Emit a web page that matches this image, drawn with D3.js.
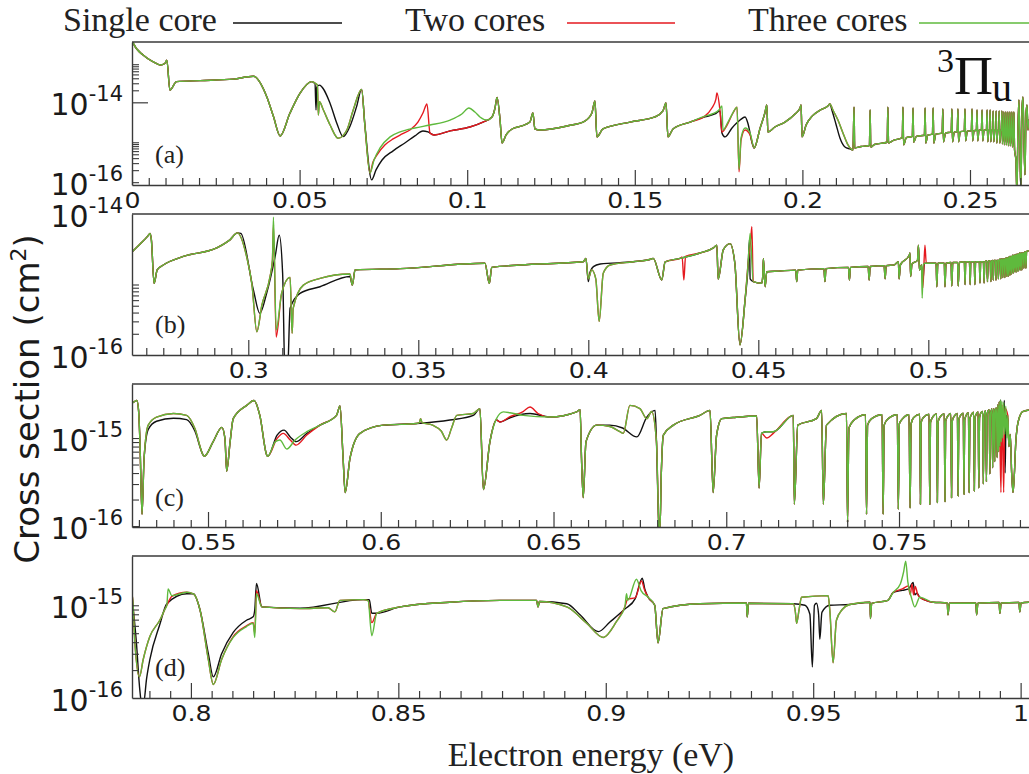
<!DOCTYPE html>
<html>
<head>
<meta charset="utf-8">
<script src="https://cdn.jsdelivr.net/npm/d3@7"></script>
<style>
  body { margin: 0; background: #fff; }
  svg { display: block; }
</style>
</head>
<body>
<svg id="chart" width="1029" height="774"></svg>
<script>
// ---------------- data ----------------
const seriesNames = ["Single core", "Two cores", "Three cores"];

// Energy tick labels of the four panels
const ticksA = [0, 0.05, 0.1, 0.15, 0.2, 0.25];
const labelsA = ["0", "0.05", "0.1", "0.15", "0.2", "0.25"];
const ticksB = [0.3, 0.35, 0.4, 0.45, 0.5];
const labelsB = ["0.3", "0.35", "0.4", "0.45", "0.5"];
const ticksC = [0.55, 0.6, 0.65, 0.7, 0.75];
const labelsC = ["0.55", "0.6", "0.65", "0.7", "0.75"];
const ticksD = [0.8, 0.85, 0.9, 0.95, 1];
const labelsD = ["0.8", "0.85", "0.9", "0.95", "1"];

// Panel (a): curve followed by the three-core result; the other runs list only where they part from it
const aShared = [
 [0.0000,4.0e-13],[0.0004,3.0e-13],[0.0034,1.5e-13],[0.0064,1.03e-13],[0.0084,8.6e-14],[0.0098,9.4e-14],[0.0104,1.14e-13],[0.0113,2.03e-14],[0.0133,3.3e-14],[0.0203,3.5e-14],[0.0302,3.8e-14],[0.0362,4.5e-14],[0.0402,1.38e-14],[0.0422,4.4e-15],[0.0442,1.44e-15],[0.0471,5.3e-15],[0.0501,1.68e-14],[0.0536,3.3e-14],
 [0.0549,2.9e-14],[0.0553,2.7e-14],[0.0556,4.8e-15],[0.0559,1.03e-14],[0.0571,6.4e-15],[0.0591,2.7e-15],[0.0615,1.26e-15],[0.0641,2.03e-15],[0.0660,6.4e-15],[0.0685,2.11e-14],[0.0695,2.47e-15],[0.0710,1.7e-16],[0.0722,3.6e-16],[0.0740,7.2e-16],[0.0770,1.36e-15],[0.0800,1.81e-15],[0.0844,2.28e-15],[0.0889,2.7e-15],[0.0949,3.6e-15],[0.0984,5.1e-15],[0.1005,7.2e-15],[0.1023,5.7e-15],[0.1038,4.3e-15],[0.1059,3.6e-15],[0.1074,4.3e-15],
 [0.1083,7.2e-15],[0.1089,1.33e-14],[0.1098,3.6e-15],[0.1104,9.6e-16],[0.1116,1.52e-15],[0.1134,2.15e-15],[0.1163,2.56e-15],[0.1187,3.2e-15],[0.1196,5.4e-15],[0.1202,2.15e-15],[0.1217,2.03e-15],[0.1298,2.56e-15],[0.1351,3.4e-15],[0.1372,5.4e-15],[0.1381,1.08e-14],[0.1387,1.36e-15],[0.1405,2.15e-15],[0.1486,3.2e-15],[0.1560,4.3e-15],[0.1584,6.1e-15],[0.1593,9.6e-15],[0.1599,1.36e-15],[0.1614,2.15e-15],[0.1665,3.2e-15],[0.1709,4.5e-15],
 [0.1730,5.1e-15],[0.1751,6.4e-15],[0.1760,8.1e-15],[0.1763,2.03e-15],[0.1778,3.2e-15],[0.1802,7.2e-15],[0.1805,7.6e-15],[0.1811,2.1e-16],[0.1817,1.28e-15],[0.1829,2.28e-15],[0.1844,1.71e-15],[0.1856,7.2e-16],
 [0.1874,2.28e-15],[0.1888,5.4e-15],[0.1894,8.6e-15],[0.1897,1.81e-15],[0.1918,2.41e-15],[0.1948,3.2e-15],[0.1978,5.1e-15],[0.1993,7.2e-15],[0.1996,8.6e-15],[0.1999,1.36e-15],[0.2011,2.7e-15],[0.2029,4.5e-15],[0.2053,6.4e-15],[0.2076,8.1e-15],[0.2082,9.1e-15],
 [0.2091,6.4e-15],[0.2106,3.6e-15],[0.2121,1.71e-15],[0.2136,8.6e-16],[0.2151,6.4e-16],
 [0.2154,7.6e-15],[0.2156,7.2e-16],[0.2175,7.8e-16],[0.2200,8.3e-16],[0.2202,6.4e-15],[0.2204,7.6e-16],[0.2215,8.8e-16],[0.2253,1.0e-15],[0.2255,7.6e-15],[0.2257,9.6e-16],[0.2270,1.1e-15],[0.2298,1.3e-15],[0.2300,7.6e-15],[0.2302,8.6e-16],[0.2310,1.3e-15],[0.2328,1.4e-15],[0.2330,7.2e-15],[0.2332,1.0e-15],[0.2340,1.4e-15],[0.2364,1.5e-15],[0.2366,7.2e-15],[0.2368,9.6e-16],[0.2374,1.5e-15],[0.2388,1.6e-15],[0.2390,7.2e-15],[0.2392,9.6e-16],[0.2398,1.6e-15],[0.2417,1.7e-15],[0.2419,6.8e-15],[0.2421,1.02e-15],[0.2427,1.7e-15],[0.2444,1.8e-15],[0.2446,6.8e-15],[0.2448,1.02e-15],[0.2453,1.8e-15],[0.2462,1.85e-15],[0.2464,6.8e-15],[0.2466,1.02e-15],[0.2471,1.85e-15],[0.2483,1.9e-15],[0.2485,6.8e-15],[0.2487,1.08e-15],[0.2492,1.9e-15],[0.2504,1.95e-15],[0.2506,6.8e-15],[0.2508,1.08e-15],[0.2512,1.95e-15],[0.2519,2.0e-15],[0.2521,6.4e-15],[0.2523,1.08e-15],[0.2527,2.0e-15],[0.2534,2.0e-15],[0.2536,6.4e-15],[0.2538,1.08e-15],[0.2542,2.0e-15],[0.2549,2.0e-15],[0.2551,6.4e-15],[0.2553,1.02e-15],[0.2556,2.0e-15],[0.2559,2.0e-15],[0.2560,6.4e-15],[0.2562,1.02e-15],[0.2565,2.0e-15],[0.2568,2.0e-15],[0.2569,6.1e-15],[0.2571,1.02e-15],[0.2574,2.0e-15],[0.2577,2.0e-15],[0.2578,6.1e-15],[0.2580,9.6e-16],[0.2583,2.0e-15],[0.2586,2.0e-15],[0.2587,6.1e-15],[0.2589,9.6e-16],[0.2592,2.0e-15],[0.2594,2.0e-15],[0.2595,6.1e-15],[0.2597,9.1e-16],[0.2599,2.0e-15],[0.2600,2.0e-15],[0.2601,5.7e-15],[0.2603,8.6e-16],[0.2605,2.0e-15],[0.2606,2.0e-15],[0.2607,5.7e-15],[0.2609,8.6e-16],[0.2611,2.0e-15],[0.2612,2.0e-15],[0.2613,5.7e-15],[0.2615,8.1e-16],[0.2617,2.0e-15],[0.2618,2.0e-15],[0.2619,5.7e-15],[0.2621,8.1e-16],[0.2623,2.0e-15],[0.2624,2.0e-15],[0.2625,5.7e-15],[0.2627,7.6e-16],[0.2629,2.0e-15],[0.2630,2.0e-15],[0.2631,5.7e-15],[0.2633,6.4e-16],
 [0.2637,3.6e-16],[0.2640,5e-17],[0.2643,2.03e-15],[0.2646,1.14e-14],[0.2649,6.4e-16],[0.2652,6e-17],[0.2655,6.4e-15],[0.2658,1.36e-14],[0.2661,1.14e-15],[0.2664,1.52e-16],[0.2667,4.8e-15],[0.2670,8.6e-15],[0.2673,2.03e-15],[0.2676,3.6e-15],[0.2682,3.0e-15]
];
const aSingle = [
 [[0.0536,3.3e-14],[0.0546,2.9e-14],[0.0549,6.4e-15],[0.0551,2.37e-14],[0.0558,2.7e-14],[0.0591,9.4e-15],[0.0611,3.0e-15],[0.0630,1.38e-15],[0.0650,2.47e-15],[0.0670,7.8e-15],[0.0685,2.11e-14],[0.0695,2.6e-15],[0.0715,1.14e-16],[0.0728,2.03e-16],[0.0746,3.6e-16],[0.0779,6.1e-16],[0.0814,9.6e-16],[0.0844,1.44e-15],[0.0868,1.92e-15],[0.0883,1.81e-15],[0.0901,1.52e-15],[0.0949,1.92e-15],[0.1008,2.41e-15],[0.1047,3.2e-15],[0.1074,4.3e-15]],
 [[0.1709,4.3e-15],[0.1739,5.1e-15],[0.1754,6.1e-15],[0.1760,1.71e-15],[0.1769,1.36e-15],[0.1790,2.28e-15],[0.1814,3.6e-15],[0.1829,4.3e-15],[0.1838,2.87e-15],[0.1850,9.6e-16],[0.1856,7.2e-16]],
 [[0.2082,9.1e-15],[0.2088,6.4e-15],[0.2100,2.87e-15],[0.2112,1.28e-15],[0.2127,7.6e-16],[0.2142,6.8e-16],[0.2151,6.4e-16]]
];
const aTwo = [
 [[0.0710,1.7e-16],[0.0719,3.2e-16],[0.0731,4.8e-16],[0.0755,8.6e-16],[0.0779,1.21e-15],[0.0806,1.61e-15],[0.0829,2.03e-15],[0.0853,3.2e-15],[0.0868,5.4e-15],[0.0880,9.1e-15],[0.0889,1.71e-15],[0.0901,1.52e-15],[0.0949,1.92e-15],[0.1008,2.41e-15],[0.1047,3.2e-15],[0.1074,4.3e-15]],
 [[0.1709,4.5e-15],[0.1730,7.2e-15],[0.1742,1.2e-14],[0.1745,1.71e-14],[0.1754,6.4e-15],[0.1760,1.81e-15],[0.1772,2.41e-15],[0.1793,5.4e-15],[0.1805,7.6e-15],[0.1811,1.81e-16],[0.1817,1.14e-15],[0.1829,2.03e-15],[0.1844,1.52e-15],[0.1856,7.2e-16]]
];
const aThree = [];

// Panel (b)
const bShared = [
 [0.2658,2.9e-15],[0.2682,3.75e-15],[0.2705,4.9e-15],[0.2711,5.3e-15],[0.2715,4.3e-15],[0.2723,1.04e-15],[0.2732,1.61e-15],[0.2750,1.89e-15],[0.2809,2.5e-15],[0.2907,3.3e-15],[0.2946,4.3e-15],[0.2968,5.4e-15],[0.2995,2.5e-15],[0.3011,9.8e-16],[0.3025,2.14e-16],[0.3040,5.1e-16],[0.3064,1.29e-15],[0.3071,2.2e-15],[0.3074,9.0e-15],[0.3082,2.26e-16],[0.3098,7.5e-16],[0.3123,1.26e-15],[0.3129,2.03e-16],[0.3132,4.6e-16],[0.3162,9.8e-16],[0.3211,1.22e-15],[0.3299,1.41e-15],[0.3306,9.8e-16],[0.3314,1.61e-15],[0.3446,1.68e-15],[0.3696,2.0e-15],[0.3709,1.04e-15],[0.3716,1.75e-15],[0.3799,1.89e-15],[0.3985,2.1e-15],[0.3993,2.35e-15],[0.4000,1.2e-15],[0.4010,1.61e-15],[0.4022,1.2e-15],[0.4032,3.0e-16],[0.4044,1.44e-15],[0.4064,1.89e-15],[0.4132,2.1e-15],[0.4186,2.3e-15],[0.4191,2.35e-15],[0.4216,1.16e-15],[0.4226,2.1e-15],[0.4270,2.35e-15],[0.4329,2.8e-15],[0.4368,3.3e-15],[0.4378,3.6e-15],[0.4382,1.19e-15],[0.4397,3.1e-15],[0.4417,3.8e-15],[0.4431,2.0e-15],[0.4446,1.39e-16],[0.4461,6.0e-16],[0.4470,2.0e-15],[0.4476,5.3e-15],[0.4485,1.10e-15],[0.4510,1.04e-15],[0.4513,1.3e-15],[0.4515,2.35e-15],[0.4520,9.3e-16],[0.4525,1.52e-15],[0.4560,1.55e-15],[0.4610,1.6e-15],[0.4613,1.1e-15],[0.4616,1.6e-15],[0.4693,1.68e-15],[0.4696,1.1e-15],[0.4699,1.68e-15],[0.4765,1.75e-15],[0.4768,1.16e-15],[0.4771,1.75e-15],[0.4823,1.8e-15],[0.4826,1.16e-15],[0.4829,1.8e-15],[0.4870,1.85e-15],[0.4873,1.2e-15],[0.4876,1.85e-15],[0.4900,1.9e-15],[0.4912,2.1e-15],[0.4914,1.2e-15],[0.4918,1.9e-15],[0.4944,2.6e-15],[0.4946,2.8e-15],[0.4948,1.3e-15],[0.4952,1.95e-15],[0.4968,2.2e-15],[0.4971,3.6e-15],[0.4974,1.6e-15],[0.4980,1.9e-15],[0.4982,6.4e-16],[0.4985,1.9e-15],[0.4990,2.0e-15],[0.4995,2.0e-15],
 [0.5023,2.0e-15],[0.5025,9.3e-16],[0.5028,2.0e-15],[0.5047,2.0e-15],[0.5049,9.3e-16],[0.5052,2.0e-15],[0.5067,2.05e-15],[0.5069,9.5e-16],[0.5072,2.05e-15],[0.5086,2.05e-15],[0.5088,9.5e-16],[0.5091,2.05e-15],[0.5106,2.1e-15],[0.5108,1.0e-15],[0.5110,2.1e-15],[0.5121,2.1e-15],[0.5123,1.0e-15],[0.5125,2.1e-15],[0.5135,2.1e-15],[0.5137,1.0e-15],[0.5139,2.1e-15],[0.5150,2.1e-15],[0.5152,1.05e-15],[0.5154,2.1e-15],[0.5162,2.1e-15],[0.5164,1.05e-15],[0.5166,2.1e-15],[0.5172,2.15e-15],[0.5174,1.1e-15],[0.5176,2.15e-15],[0.5182,2.15e-15],[0.5184,1.1e-15],[0.5186,2.15e-15],[0.5190,2.2e-15],[0.5191,1.15e-15],[0.5193,2.2e-15],[0.5198,2.2e-15],[0.5199,1.15e-15],[0.5201,2.2e-15],[0.5205,2.2e-15],[0.5206,1.2e-15],[0.5208,2.2e-15],[0.5212,2.3e-15],[0.5213,1.2e-15],[0.5215,2.3e-15],[0.5218,2.3e-15],[0.5219,1.25e-15],[0.5221,2.3e-15],[0.5224,2.3e-15],[0.5225,1.25e-15],[0.5227,2.3e-15],[0.5230,2.4e-15],[0.5231,1.3e-15],[0.5233,2.4e-15],[0.5234,2.4e-15],[0.5235,1.3e-15],[0.5237,2.4e-15],[0.5239,2.5e-15],[0.5240,1.35e-15],[0.5242,2.5e-15],[0.5244,2.5e-15],[0.5245,1.4e-15],[0.5247,2.5e-15],[0.5249,2.6e-15],[0.5250,1.45e-15],[0.5252,2.6e-15],[0.5254,2.6e-15],[0.5255,1.5e-15],[0.5257,2.6e-15],[0.5259,2.7e-15],[0.5260,1.5e-15],[0.5262,2.7e-15],[0.5264,2.7e-15],[0.5265,1.55e-15],[0.5267,2.7e-15],[0.5269,2.8e-15],[0.5270,1.6e-15],[0.5272,2.8e-15],[0.5274,2.8e-15],[0.5275,1.6e-15],[0.5277,2.8e-15],[0.5280,2.8e-15],[0.5281,1.7e-15],[0.5283,2.9e-15],[0.5286,2.9e-15],[0.5287,1.7e-15],[0.5289,2.9e-15],[0.5292,3.0e-15],[0.5302,3.0e-15]
];
const bSingle = [
 [[0.2968,5.4e-15],[0.2978,5.3e-15],[0.3015,8.4e-16],[0.3034,3.9e-16],[0.3054,7.5e-16],[0.3079,2.5e-15],[0.3091,5.0e-15],[0.3101,1.44e-15],[0.3108,5e-17],[0.3115,5e-17],[0.3123,4.6e-16],[0.3152,7.5e-16],[0.3211,9.3e-16],[0.3299,1.3e-15]],
 [[0.3993,2.35e-15],[0.4000,1.10e-15],[0.4005,1.5e-15],[0.4015,1.79e-15],[0.4035,1.95e-15],[0.4132,2.1e-15]],
 [[0.4461,6.0e-16],[0.4470,1.8e-15],[0.4474,4.3e-15],[0.4476,1.2e-15],[0.4485,1.10e-15]],
 [[0.4980,1.9e-15],[0.4984,1.1e-15],[0.4988,1.95e-15]]
];
const bTwo = [
 [[0.3074,7.0e-15],[0.3082,1.8e-16]],
 [[0.4270,2.35e-15],[0.4276,2.45e-15],[0.4281,1.16e-15],[0.4286,2.5e-15],[0.4329,2.8e-15]],
 [[0.4461,6.0e-16],[0.4470,2.0e-15],[0.4478,4.5e-15],[0.4481,6.6e-15],[0.4485,1.10e-15]],
 [[0.4980,1.9e-15],[0.4984,9e-16],[0.4990,3.6e-15],[0.4994,2.0e-15]]
];
const bThree = [];

// Panel (c)
const cShared = [
 [0.5280,2.5e-15],[0.5282,2.52e-15],[0.5294,2.67e-15],[0.5299,2.06e-15],[0.5303,9.1e-16],[0.5309,1.36e-16],[0.5315,5.9e-16],[0.5327,1.40e-15],[0.5351,1.73e-15],[0.5400,1.9e-15],[0.5438,1.81e-15],[0.5462,1.28e-15],[0.5486,6.4e-16],[0.5489,6.2e-16],[0.5515,9.1e-16],[0.5540,1.32e-15],[0.5549,9.9e-16],[0.5554,4.2e-16],[0.5564,9.1e-16],[0.5573,1.66e-15],[0.5612,2.35e-15],[0.5633,2.67e-15],[0.5650,1.81e-15],[0.5670,6.4e-16],[0.5673,6.2e-16],
 [0.5695,9.1e-16],[0.5708,9.5e-16],[0.5728,7.5e-16],[0.5752,9.5e-16],[0.5786,1.18e-15],
 [0.5824,1.40e-15],[0.5872,1.81e-15],[0.5882,2.31e-15],[0.5891,5.9e-16],[0.5897,2.4e-16],[0.5911,5.9e-16],[0.5940,1.13e-15],[0.6007,1.40e-15],[0.6104,1.46e-15],
 [0.6112,1.5e-15],[0.6115,1.66e-15],[0.6120,1.5e-15],[0.6150,1.4e-15],[0.6175,1.2e-15],[0.6191,9.5e-16],[0.6205,1.3e-15],[0.6220,1.81e-15],[0.6268,1.9e-15],
 [0.6287,2.16e-15],[0.6297,2.6e-16],[0.6316,9.1e-16],[0.6335,1.66e-15],
 [0.6355,1.98e-15],[0.6374,1.94e-15],[0.6412,1.81e-15],
 [0.6490,1.73e-15],[0.6567,1.98e-15],[0.6577,2.1e-15],[0.6581,5.9e-16],[0.6586,2.1e-16],[0.6594,9.1e-16],[0.6625,1.40e-15],
 [0.6663,1.35e-15],[0.6692,1.18e-15],[0.6702,1.13e-15],[0.6721,2.35e-15],[0.6750,2.16e-15],[0.6770,1.66e-15],[0.6784,2.0e-15],
 [0.6798,9.1e-16],[0.6805,1.0e-16],[0.6808,9e-17],[0.6812,4e-16],[0.6818,1.08e-15],[0.6847,1.40e-15],[0.6924,1.81e-15],[0.6953,2.06e-15],[0.6962,2.4e-16],[0.6972,1.08e-15],[0.6987,1.66e-15],[0.7020,1.71e-15],[0.7088,1.78e-15],[0.7095,2.7e-16],[0.7102,1.13e-15],[0.7117,1.18e-15],[0.7136,1.18e-15],[0.7194,1.81e-15],[0.7197,1.77e-16],[0.7207,1.40e-15],[0.7261,1.66e-15],[0.7276,2.06e-15],[0.7281,1.77e-16],[0.7290,1.40e-15],[0.7348,1.9e-15],[0.7351,1.1e-16],[0.7355,1.3e-15],
 [0.7370,1.6e-15],[0.7403,1.84e-15],[0.7406,1.36e-16],[0.7409,1.4e-15],[0.7420,1.65e-15],[0.7451,1.84e-15],[0.7454,1.36e-16],[0.7457,1.4e-15],[0.7468,1.65e-15],[0.7495,1.84e-15],[0.7498,1.55e-16],[0.7501,1.45e-15],[0.7510,1.65e-15],[0.7529,1.84e-15],[0.7532,1.6e-16],[0.7535,1.45e-15],[0.7542,1.7e-15],[0.7560,1.86e-15],[0.7562,1.77e-16],[0.7564,1.5e-15],[0.7570,1.7e-15],[0.7587,1.86e-15],[0.7589,1.77e-16],[0.7591,1.5e-15],[0.7597,1.72e-15],[0.7609,1.88e-15],[0.7611,1.85e-16],[0.7613,1.5e-15],[0.7618,1.72e-15],[0.7631,1.88e-15],[0.7633,1.9e-16],[0.7635,1.55e-15],[0.7640,1.75e-15],[0.7650,1.9e-15],[0.7652,2.1e-16],[0.7654,1.55e-15],[0.7659,1.75e-15],[0.7669,1.9e-15],[0.7671,2.2e-16],[0.7673,1.6e-15],[0.7677,1.78e-15],[0.7686,1.92e-15],[0.7688,2.3e-16],[0.7690,1.6e-15],[0.7694,1.8e-15],[0.7701,1.94e-15],[0.7703,2.4e-16],[0.7705,1.65e-15],[0.7709,1.82e-15],[0.7716,1.96e-15],[0.7718,2.5e-16],[0.7720,1.7e-15],[0.7723,1.85e-15],[0.7729,1.98e-15],[0.7731,2.7e-16],[0.7733,1.7e-15],[0.7736,1.9e-15],[0.7742,2.0e-15],[0.7744,3.0e-16],[0.7746,1.75e-15],[0.7748,1.95e-15],[0.7751,2.05e-15],[0.7753,3.2e-16],[0.7755,1.8e-15],[0.7757,2.0e-15],[0.7761,2.1e-15],[0.7763,3.9e-16],[0.7765,1.9e-15],[0.7767,2.05e-15],[0.7769,2.15e-15],[0.7771,4.6e-16],[0.7773,1.95e-15],[0.7775,2.15e-15],[0.7777,5.4e-16],[0.7779,2.1e-15],
 [0.7782,2.2e-15],[0.7784,6e-16],[0.7786,2.4e-15],[0.7788,7e-16],[0.7790,2.6e-15],[0.7792,8e-16],[0.7794,2.7e-15],[0.7796,9e-16],[0.7798,2.6e-15],[0.7800,1.0e-15],[0.7803,2.5e-15],[0.7806,1.1e-15],[0.7809,2.3e-15],[0.7812,1.0e-15],[0.7815,1.8e-15],[0.7818,8e-16],[0.7822,1.1e-15],[0.7826,4e-16],[0.7830,2.4e-16],[0.7834,4e-16],[0.7838,9e-16],[0.7843,1.4e-15],[0.7848,1.7e-15],[0.7853,1.9e-15],[0.7858,2.0e-15],[0.7882,2.1e-15]
];
const cSingle = [
 [[0.5315,5.9e-16],[0.5327,1.25e-15],[0.5351,1.55e-15],[0.5400,1.68e-15],[0.5438,1.62e-15],[0.5462,1.2e-15],[0.5486,6.4e-16]],
 [[0.5673,6.2e-16],[0.5700,1.08e-15],[0.5720,1.23e-15],[0.5738,1.03e-15],[0.5755,9.1e-16],[0.5786,1.13e-15]],
 [[0.6104,1.46e-15],[0.6200,1.6e-15],[0.6268,1.81e-15],[0.6287,2.16e-15]],
 [[0.6335,1.6e-15],[0.6345,1.52e-15],[0.6374,1.7e-15],[0.6432,1.9e-15],[0.6490,1.73e-15]],
 [[0.6625,1.40e-15],[0.6663,1.40e-15],[0.6700,1.3e-15],[0.6741,1.03e-15],[0.6770,1.73e-15],[0.6794,2.06e-15],[0.6798,9.1e-16]],
 [[0.7796,1.2e-15],[0.7800,1.5e-15],[0.7805,2.67e-15],[0.7807,4e-16],[0.7810,1.8e-15],[0.7815,1.6e-15]]
];
const cTwo = [
 [[0.5673,6.2e-16],[0.5700,9.9e-16],[0.5718,1.13e-15],[0.5738,9.5e-16],[0.5755,8.3e-16],[0.5786,1.08e-15]],
 [[0.6335,1.6e-15],[0.6345,1.52e-15],[0.6374,1.75e-15],[0.6412,2.0e-15],[0.6432,2.25e-15],[0.6455,1.9e-15],[0.6490,1.73e-15]],
 [[0.7102,1.13e-15],[0.7117,1.0e-15],[0.7136,1.13e-15]],
 [[0.7790,2.6e-15],[0.7795,2.4e-16],[0.7798,2.4e-15],[0.7803,2.4e-16],[0.7806,2.2e-15],[0.7815,1.8e-15]]
];
const cThree = [];

// Panel (d)
const dShared = [
 [0.7858,1.3e-15],[0.7860,1.13e-15],[0.7865,3.95e-16],[0.7876,1.69e-16],[0.7885,2.6e-16],[0.7901,4.6e-16],[0.7925,6.9e-16],[0.7937,9.0e-16],[0.7942,1.0e-15],[0.7945,1.5e-15],[0.7954,1.27e-15],[0.7990,1.38e-15],[0.8006,1.33e-15],[0.8022,8.9e-16],[0.8042,2.6e-16],[0.8054,1.4e-16],[0.8074,2.6e-16],[0.8102,4.5e-16],[0.8134,5.9e-16],[0.8150,6.4e-16],[0.8154,4.5e-16],[0.8158,1.33e-15],[0.8171,9.6e-16],[0.8263,9.2e-16],[0.8330,9.4e-16],[0.8347,8.5e-16],[0.8359,1.13e-15],[0.8415,1.15e-15],[0.8427,1.12e-15],[0.8436,4.7e-16],[0.8448,8.2e-16],[0.8504,9.6e-16],[0.8624,1.08e-15],[0.8745,1.13e-15],[0.8833,1.13e-15],[0.8837,9.6e-16],[0.8840,1.1e-15],[0.8906,9.6e-16],[0.8954,6.4e-16],[0.8994,4.5e-16],[0.9026,6.7e-16],[0.9046,9.6e-16],[0.9050,1.33e-15],[0.9053,1.13e-15],[0.9074,1.91e-15],[0.9085,1.44e-15],[0.9102,1.22e-15],[0.9118,1.0e-15],[0.9126,3.95e-16],[0.9138,9.2e-16],[0.9227,1.04e-15],[0.9339,1.06e-15],[0.9341,7.5e-16],[0.9344,1.05e-15],[0.9452,1.04e-15],[0.9457,8.5e-16],[0.9460,6.4e-16],[0.9466,9.0e-16],[0.9472,1.22e-15],[0.9536,1.27e-15],[0.9540,8.9e-16],[0.9548,2.4e-16],[0.9556,6.9e-16],[0.9570,9.0e-16],[0.9588,1.02e-15],[0.9637,1.08e-15],[0.9638,7.2e-16],[0.9641,1.05e-15],[0.9680,1.13e-15],[0.9693,1.38e-15],[0.9710,1.7e-15],[0.9718,2.3e-15],[0.9723,2.98e-15],[0.9728,1.8e-15],[0.9737,1.2e-15],[0.9745,9.6e-16],[0.9757,1.22e-15],[0.9789,1.08e-15],[0.9823,1.06e-15],[0.9825,7.9e-16],[0.9828,1.05e-15],[0.9892,1.06e-15],[0.9894,7.9e-16],[0.9897,1.05e-15],[0.9948,1.07e-15],[0.9950,8.2e-16],[0.9953,1.06e-15],[0.9996,1.07e-15],[0.9998,8.5e-16],[1.0001,1.06e-15],[1.0025,1.08e-15]
];
const dSingle = [
 [[0.7858,1.1e-15],[0.7860,9.6e-16],[0.7868,4.3e-16],[0.7877,1.2e-16],[0.7881,8.8e-17],[0.7886,8.8e-17],[0.7893,1.6e-16],[0.7901,2.6e-16],[0.7925,6.2e-16],[0.7942,1.04e-15],[0.7990,1.33e-15],[0.8006,1.33e-15],[0.8022,8.9e-16],[0.8042,3e-16],[0.8054,1.69e-16],[0.8074,3e-16],[0.8102,5.1e-16],[0.8134,6.9e-16],[0.8150,7.5e-16],[0.8154,9e-16],[0.8158,1.72e-15],[0.8171,9.6e-16]],
 [[0.8263,9.3e-16],[0.8415,1.15e-15],[0.8427,1.15e-15],[0.8430,1.15e-15],[0.8436,8.2e-16],[0.8448,8.2e-16]],
 [[0.8840,1.1e-15],[0.8906,1.04e-15],[0.8938,7.9e-16],[0.8982,5.2e-16],[0.9010,6.6e-16],[0.9046,9.1e-16],[0.9071,1.18e-15],[0.9088,1.96e-15],[0.9094,1.5e-15],[0.9102,1.22e-15]],
 [[0.9452,1.04e-15],[0.9480,1.0e-15],[0.9492,8.0e-16],[0.9498,2.16e-16],[0.9503,1.0e-15],[0.9508,1.05e-15],[0.9513,8.0e-16],[0.9516,4.3e-16],[0.9521,8.4e-16],[0.9540,1.0e-15],[0.9588,1.02e-15]],
 [[0.9693,1.38e-15],[0.9715,1.45e-15],[0.9730,1.5e-15],[0.9741,1.76e-15],[0.9745,1.3e-15],[0.9750,1.35e-15],[0.9757,1.22e-15]]
];
const dTwo = [
 [[0.7925,6.9e-16],[0.7942,1.0e-15],[0.7954,1.25e-15],[0.7990,1.38e-15]],
 [[0.8054,1.4e-16],[0.8074,2.6e-16],[0.8102,4.6e-16],[0.8134,6.0e-16],[0.8150,6.5e-16],[0.8154,5e-16],[0.8158,1.44e-15],[0.8171,9.6e-16]],
 [[0.8427,1.12e-15],[0.8436,6.5e-16],[0.8448,8.2e-16]],
 [[0.9046,9.6e-16],[0.9053,1.17e-15],[0.9071,1.2e-15],[0.9086,1.83e-15],[0.9094,1.44e-15],[0.9102,1.22e-15]],
 [[0.9693,1.38e-15],[0.9715,1.5e-15],[0.9729,1.62e-15],[0.9734,1.3e-15],[0.9738,1.7e-15],[0.9742,1.3e-15],[0.9746,1.6e-15],[0.9752,1.3e-15],[0.9757,1.22e-15]]
];
const dThree = [];

// ---------------- layout and style ----------------
const W = 1029, H = 774;
const plotLeft = 132, plotRight = 1031;
const colors = ["#111111", "#e5191f", "#5fba3d"];
const axisColor = "#3a3a3a";
const sansFont = "'DejaVu Sans', sans-serif";
const serifFont = "'Liberation Serif', 'DejaVu Serif', serif";

const minorUpper = [2e-14,3e-14,4e-14,5e-14,6e-14,7e-14,8e-14,9e-14];
const minorLower = [1e-16,2e-16,3e-16,4e-16,5e-16,6e-16,7e-16,8e-16,9e-16,1e-15];

const panels = [
  { tag: "(a)", top: 42, bottom: 185, xDom: [0, 0.2682], yDom: [8.5e-17, 3.24e-13],
    shared: aShared, runs: [aSingle, aTwo, aThree], ticks: ticksA, labels: labelsA,
    yMinor: minorUpper.concat(minorLower), yMajor: [1e-14], yLabels: [[1e-14, "-14"], [1e-16, "-16"]], tagY: 163 },
  { tag: "(b)", top: 214, bottom: 355, xDom: [0.2658, 0.5302], yDom: [1e-16, 1e-14],
    shared: bShared, runs: [bSingle, bTwo, bThree], ticks: ticksB, labels: labelsB,
    yMinor: minorLower.slice(1), yMajor: [], yLabels: [[1e-14, "-14"], [1e-16, "-16"]], tagY: 333 },
  { tag: "(c)", top: 384, bottom: 527, xDom: [0.528, 0.7882], yDom: [9.75e-17, 4.11e-15],
    shared: cShared, runs: [cSingle, cTwo, cThree], ticks: ticksC, labels: labelsC,
    yMinor: minorLower, yMajor: [], yLabels: [[1e-15, "-15"], [1e-16, "-16"]], tagY: 506 },
  { tag: "(d)", top: 556, bottom: 698, xDom: [0.7858, 1.0025], yDom: [1e-16, 3.4e-15],
    shared: dShared, runs: [dSingle, dTwo, dThree], ticks: ticksD, labels: labelsD,
    yMinor: minorLower.slice(1), yMajor: [], yLabels: [[1e-15, "-15"], [1e-16, "-16"]], tagY: 676 }
];

// splice a run's own stretches into the shared curve
function assemble(shared, segments) {
  let pts = shared.filter(p => !segments.some(s => p[0] >= s[0][0] && p[0] <= s[s.length - 1][0]));
  segments.forEach(s => { pts = pts.concat(s); });
  return pts.sort((a, b) => a[0] - b[0]);
}

const svg = d3.select("#chart");
svg.append("rect").attr("width", W).attr("height", H).attr("fill", "#fff");

panels.forEach((p, pi) => {
  const x = d3.scaleLinear().domain(p.xDom).range([plotLeft, plotRight]);
  const y = d3.scaleLog().domain(p.yDom).range([p.bottom, p.top]);
  const g = svg.append("g");

  const clipId = "clip" + pi;
  svg.append("clipPath").attr("id", clipId)
    .append("rect").attr("x", plotLeft).attr("y", p.top)
    .attr("width", plotRight - plotLeft).attr("height", p.bottom - p.top);

  // curves: single core, two cores, three cores (drawn last, on top)
  const line = d3.line().curve(d3.curveMonotoneX).x(d => x(d[0])).y(d => y(d[1]));
  const curves = g.append("g").attr("clip-path", `url(#${clipId})`);
  p.runs.forEach((segs, si) => {
    curves.append("path")
      .datum(assemble(p.shared, segs))
      .attr("fill", "none")
      .attr("stroke", colors[si])
      .attr("stroke-width", 1.4)
      .attr("stroke-linejoin", "round")
      .attr("d", line);
  });

  // bottom axis: major ticks with labels, minor ticks every 0.005 eV
  const xMajor = d3.axisBottom(x).tickValues(p.ticks).tickSize(-15).tickSizeOuter(0)
    .tickPadding(8).tickFormat((d, i) => p.labels[i]);
  const gx = g.append("g").attr("transform", `translate(0,${p.bottom})`).call(xMajor);
  const minorX = d3.range(Math.ceil(p.xDom[0] / 0.005) * 0.005, p.xDom[1], 0.005)
    .filter(v => !p.ticks.some(t => Math.abs(t - v) < 1e-6));
  const gxm = g.append("g").attr("transform", `translate(0,${p.bottom})`)
    .call(d3.axisBottom(x).tickValues(minorX).tickSize(-7).tickSizeOuter(0).tickFormat(""));
  gxm.select(".domain").remove();
  [gx, gxm].forEach(a => {
    a.selectAll("line").attr("stroke", axisColor).attr("stroke-width", 1.2);
    a.select(".domain").attr("stroke", axisColor).attr("stroke-width", 1.4);
  });
  gx.selectAll("text")
    .attr("font-family", sansFont).attr("font-size", 21).attr("fill", "#1a1a1a")
    .attr("transform", "scale(1.2,1)");

  // left axis
  const gy = g.append("g").attr("transform", `translate(${plotLeft},0)`)
    .call(d3.axisLeft(y).tickValues(p.yMinor).tickSize(-7).tickSizeOuter(0).tickFormat(""));
  if (p.yMajor.length) {
    const gyM = g.append("g").attr("transform", `translate(${plotLeft},0)`)
      .call(d3.axisLeft(y).tickValues(p.yMajor).tickSize(-16).tickSizeOuter(0).tickFormat(""));
    gyM.select(".domain").remove();
    gyM.selectAll("line").attr("stroke", axisColor).attr("stroke-width", 1.2);
  }
  gy.selectAll("line").attr("stroke", axisColor).attr("stroke-width", 1.1);
  gy.select(".domain").attr("stroke", axisColor).attr("stroke-width", 1.4);

  // top frame line
  g.append("line").attr("x1", plotLeft).attr("x2", plotRight)
    .attr("y1", p.top).attr("y2", p.top)
    .attr("stroke", axisColor).attr("stroke-width", 1.4);

  // decade labels
  p.yLabels.forEach(([v, e]) => {
    const t = g.append("g").attr("transform", `translate(123,${y(v) + 13})`)
      .append("text").attr("text-anchor", "end")
      .attr("font-family", sansFont).attr("fill", "#1a1a1a");
    t.append("tspan").attr("font-size", 30).text("10");
    t.append("tspan").attr("font-size", 21).attr("dy", -14).text(e);
  });

  // panel tag
  g.append("text").attr("x", 155).attr("y", p.tagY)
    .attr("font-family", serifFont).attr("font-size", 26).attr("fill", "#222")
    .text(p.tag);
});

// legend along the top
const legendItems = [
  { x: 63, x1: 233, x2: 342 },
  { x: 405, x1: 567, x2: 675 },
  { x: 748, x1: 919, x2: 1029 }
];
legendItems.forEach((it, i) => {
  svg.append("text").attr("x", it.x).attr("y", 31)
    .attr("font-family", serifFont).attr("font-size", 34).attr("fill", "#222")
    .text(seriesNames[i]);
  svg.append("line").attr("x1", it.x1).attr("x2", it.x2).attr("y1", 23).attr("y2", 23)
    .attr("stroke", colors[i]).attr("stroke-width", 1.5);
});

// symmetry label of the state
const sym = svg.append("text").attr("font-family", serifFont).attr("fill", "#111");
sym.append("tspan").attr("x", 937).attr("y", 72).attr("font-size", 34).text("3");
sym.append("tspan").attr("x", 954).attr("y", 94).attr("font-size", 54).text("Π");
sym.append("tspan").attr("x", 992).attr("y", 101).attr("font-size", 40).text("u");

// axis titles
svg.append("text")
  .attr("transform", "translate(38.5,399) rotate(-90)")
  .attr("text-anchor", "middle")
  .attr("font-family", sansFont).attr("font-size", 34).attr("fill", "#1a1a1a")
  .call(t => {
    t.append("tspan").text("Cross section (cm");
    t.append("tspan").attr("font-size", 22).attr("dy", -13).text("2");
    t.append("tspan").attr("dy", 13).text(")");
  });

svg.append("text")
  .attr("x", 591).attr("y", 766).attr("text-anchor", "middle")
  .attr("font-family", serifFont).attr("font-size", 34).attr("fill", "#222")
  .text("Electron energy (eV)");
</script>
</body>
</html>
